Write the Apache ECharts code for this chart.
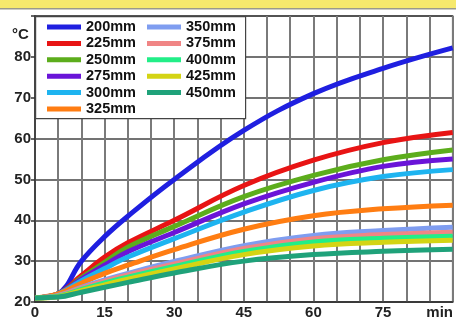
<!DOCTYPE html>
<html><head><meta charset="utf-8">
<script src="https://cdn.jsdelivr.net/npm/echarts@6/dist/echarts.min.js"></script>
<style>html,body{margin:0;padding:0;background:#fff}#c{width:456px;height:320px}</style>
</head><body><div id="c"></div><script>
// ---- data ----
const times = [0, 5, 10, 15, 20, 30, 45, 60, 75, 90];
const names = ['200mm','225mm','250mm','275mm','300mm','325mm','350mm','375mm','400mm','425mm','450mm'];
const t200 = [21, 22, 30, 36, 41, 50, 62, 71, 77.2, 82.2];
const t225 = [21, 22, 26.5, 31, 34.5, 40, 48.5, 54.7, 59, 61.5];
const t250 = [21, 22, 25.9, 29.7, 33.4, 38.5, 45.8, 51, 54.8, 57.2];
const t275 = [21, 22, 25.6, 29, 32.3, 37, 44, 49.3, 53.2, 55];
const t300 = [21, 22, 25.2, 28.2, 31, 35.5, 42, 47.3, 50.7, 52.4];
const t325 = [21, 22, 24.6, 27, 29, 32.8, 37.8, 41.1, 42.8, 43.7];
const t350 = [21, 21.6, 23.6, 25.4, 27, 29.9, 33.8, 36.3, 37.5, 38.3];
const t375 = [21, 21.5, 23.4, 25.1, 26.6, 29.3, 33.1, 35.5, 36.5, 37.1];
const t400 = [21, 21.4, 23.1, 24.7, 26.1, 28.7, 32.4, 34.7, 35.6, 36.1];
const t425 = [21, 21.3, 22.8, 24.2, 25.6, 28.1, 31.6, 33.7, 34.6, 35.1];
const t450 = [21, 21.2, 22.4, 23.6, 24.8, 27.1, 30.0, 31.6, 32.4, 32.9];
const kneeTime = 5; // heating starts here (sharp corner in the curves)
const yTicks = [20, 30, 40, 50, 60, 70, 80];
const xTicks = [0, 15, 30, 45, 60, 75];
const xUnit = 'min';
const yUnit = '°C';
// ---- style ----
const colors = ['#1f1fe0','#e81414','#5cad1c','#6a14d8','#1eb4f0','#ff7d12','#7f9df0','#f08585','#22ee88','#d4d414','#1fa27a'];
const allVals = [t200,t225,t250,t275,t300,t325,t350,t375,t400,t425,t450];
const FONT = '"Liberation Sans", Arial, sans-serif';

function buildData(vals) {
  const out = [];
  times.forEach((t, j) => {
    out.push([t, vals[j]]);
    if (t === kneeTime) out.push([t, vals[j]]); // repeat so the smooth line keeps a corner here
  });
  return out;
}

const series = names.map((n, i) => ({
  name: n, type: 'line', symbol: 'none', smooth: 0.4,
  lineStyle: { width: 5, color: colors[i] }, itemStyle: { color: colors[i] },
  data: buildData(allVals[i])
}));

const legendBase = {
  orient: 'vertical', icon: 'rect', itemWidth: 34, itemHeight: 5, itemGap: 0.4,
  selectedMode: false, z: 10, padding: 0,
  textStyle: { fontFamily: FONT, fontWeight: 'bold', fontSize: 14.5, color: '#111', lineHeight: 16 }
};

const chart = echarts.init(document.getElementById('c'), null, { renderer: 'canvas' });
chart.setOption({
  animation: false,
  backgroundColor: '#ffffff',
  grid: { left: 35, right: 1, top: 16, bottom: 17, show: true, borderColor: '#555', borderWidth: 1.5 },
  xAxis: {
    type: 'value', min: 0, max: 90, interval: 5,
    axisLine: { show: true, lineStyle: { color: '#333', width: 1.5 } },
    axisTick: { show: false },
    splitLine: { show: true, lineStyle: { color: '#7a7a7a', width: 2 } },
    axisLabel: {
      margin: 3, fontFamily: FONT, fontWeight: 'bold', fontSize: 15, color: '#222',
      showMaxLabel: true,
      formatter: v => (v === 90 ? '{m|' + xUnit + '}' : (xTicks.indexOf(v) >= 0 ? String(v) : '')),
      rich: { m: { fontFamily: FONT, fontWeight: 'bold', fontSize: 15, color: '#222', padding: [0, 26, 0, 0] } }
    }
  },
  yAxis: {
    type: 'value', min: 20, max: 90, interval: 10,
    axisLine: { show: true, lineStyle: { color: '#333', width: 1.5 } },
    axisTick: { show: true, length: 4, lineStyle: { color: '#333', width: 1.5 } },
    splitLine: { show: true, lineStyle: { color: '#444', width: 1.5 } },
    axisLabel: {
      margin: 4, fontFamily: FONT, fontWeight: 'bold', fontSize: 15, color: '#222',
      formatter: v => (yTicks.indexOf(v) >= 0 ? String(v) : '')
    }
  },
  legend: [
    Object.assign({}, legendBase, { left: 47, top: 19, data: names.slice(0, 6) }),
    Object.assign({}, legendBase, { left: 147, top: 19, data: names.slice(6) })
  ],
  graphic: [
    { type: 'rect', left: 0, top: 0, z: 5, shape: { width: 456, height: 8 }, style: { fill: '#f6e96c' } },
    { type: 'rect', left: 0, top: 8, z: 5, shape: { width: 456, height: 1.5 }, style: { fill: '#9a9a8a' } },
    { type: 'rect', left: 35, top: 16, z: 5, shape: { width: 210, height: 102 }, style: { fill: '#fff', stroke: '#444', lineWidth: 1.2 } },
    { type: 'text', left: 12, top: 27, z: 5, style: { text: yUnit, font: 'bold 15px ' + FONT, fill: '#222' } }
  ],
  series: series
});
</script></body></html>
